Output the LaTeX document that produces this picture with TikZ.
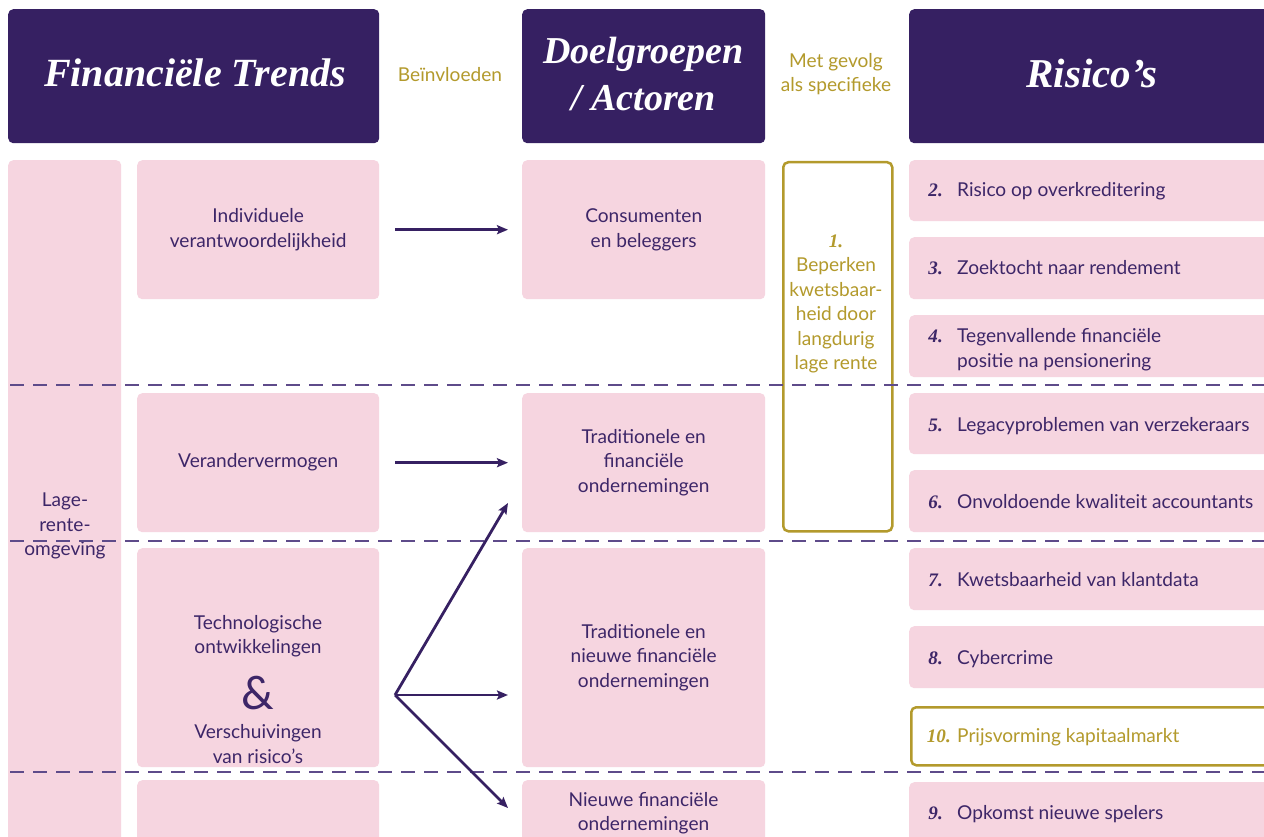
\documentclass[tikz,border=0pt]{standalone}
\usepackage{fontspec}
\setmainfont{Lato}
\newfontfamily\headfont{Liberation Serif}
\usetikzlibrary{arrows.meta}
\definecolor{hdr}{HTML}{362062}
\definecolor{pinkf}{HTML}{F6D5E0}
\definecolor{goldc}{HTML}{B39A2C}
\definecolor{txtp}{HTML}{3D2668}
\definecolor{dashc}{HTML}{5E4B8A}
\newcommand{\bodyfs}{\fontsize{19.1}{24.4}\selectfont}
\newcommand{\numf}[1]{{\headfont\bfseries\itshape #1}}
\begin{document}
\begin{tikzpicture}[x=1pt,y=-1pt,
  hdrbox/.style={fill=hdr, rounded corners=5pt, anchor=north west, inner sep=0pt},
  hdrtxt/.style={text=white, font=\headfont\bfseries\itshape\fontsize{39.5}{47}\selectfont, align=center},
  pbox/.style={fill=pinkf, rounded corners=5pt, anchor=north west, inner sep=0pt, text=txtp, font=\bodyfs, align=center},
  gbox/.style={draw=goldc, line width=2.5pt, rounded corners=5pt, anchor=north west, inner sep=0pt, fill=white},
  goldtxt/.style={text=goldc, font=\bodyfs, align=center},
  rtxt/.style={text=txtp, font=\bodyfs, anchor=base west, inner sep=0pt},
  rnum/.style={text=txtp, font=\bodyfs, anchor=base east, inner sep=0pt},
  dashline/.style={draw=dashc, line width=1.5pt, dash pattern=on 14pt off 9pt, dash phase=0pt},
  arr/.style={draw=hdr, line width=2.8pt, -{Stealth[length=11pt,width=9pt,inset=2pt]}}
]
\useasboundingbox (0,0) rectangle (1264,837);
\clip (0,0) rectangle (1264,837);
\fill[white] (0,0) rectangle (1264,837);

% headers
\node[hdrbox, minimum width=371pt, minimum height=134pt] (h1) at (8,9) {};
\node[hdrtxt, font=\headfont\bfseries\itshape\fontsize{40}{47}\selectfont] (h1t) at (195,73) {Financiële Trends};
\node[hdrbox, minimum width=243pt, minimum height=134pt] (h2) at (522,9) {};
\node[hdrtxt, font=\headfont\bfseries\itshape\fontsize{38}{47}\selectfont] (h2t) at (643.5,74) {Doelgroepen\\/ Actoren};
\node[hdrbox, minimum width=380pt, minimum height=134pt] (h3) at (909,9) {};
\node[hdrtxt, font=\headfont\bfseries\itshape\fontsize{41}{47}\selectfont] (h3t) at (1092,73) {Risico’s};
\node[goldtxt] (bein) at (450,75) {Beïnvloeden};
\node[goldtxt] (gev) at (836,74) {Met gevolg\\als specifieke};

% left column
\node[pbox, minimum width=113pt, minimum height=720pt] (lr) at (8,160) {};
\node[text=txtp, font=\bodyfs, align=center] (lrt) at (65,526) {Lage-\\rente-\\omgeving};

% trends
\node[pbox, minimum width=242pt, minimum height=139pt] (t1) at (137,160) {Individuele\\verantwoordelijkheid};
\node[pbox, minimum width=242pt, minimum height=139pt] (t2) at (137,393) {Verandervermogen};
\node[pbox, minimum width=242pt, minimum height=219pt] (t3) at (137,548) {};
\node[text=txtp, font=\bodyfs, align=center] (t3a) at (258,636) {Technologische\\ontwikkelingen};
\node[text=txtp, font=\fontsize{46}{46}\selectfont] (amp) at (258,693) {\&};
\node[text=txtp, font=\bodyfs, align=center] (t3b) at (258,744) {Verschuivingen\\van risico’s};
\node[pbox, minimum width=242pt, minimum height=100pt] (t4) at (137,780) {};

% actors
\node[pbox, minimum width=243pt, minimum height=139pt] (a1) at (522,160) {Consumenten\\en beleggers};
\node[pbox, minimum width=243pt, minimum height=139pt] (a2) at (522,393) {Traditionele en\\financiële\\ondernemingen};
\node[pbox, minimum width=243pt, minimum height=219pt] (a3) at (522,548) {Traditionele en\\nieuwe financiële\\ondernemingen};
\node[pbox, minimum width=243pt, minimum height=100pt] (a4) at (522,780) {};
\node[text=txtp, font=\bodyfs, align=center] (a4t) at (643.5,813) {Nieuwe financiële\\ondernemingen};

% gold box
\node[gbox, minimum width=109pt, minimum height=369pt] (g1) at (782,161) {};
\node[goldtxt] (g1t) at (836,304) {\numf{1.}\\Beperken\\kwetsbaar-\\heid door\\langdurig\\lage rente};

% risks
\node[pbox, minimum width=380pt, minimum height=61pt] (r2) at (909,160) {};
\node[pbox, minimum width=380pt, minimum height=62pt] (r3) at (909,237) {};
\node[pbox, minimum width=380pt, minimum height=62pt] (r4) at (909,315) {};
\node[pbox, minimum width=380pt, minimum height=61pt] (r5) at (909,393) {};
\node[pbox, minimum width=380pt, minimum height=62pt] (r6) at (909,470) {};
\node[pbox, minimum width=380pt, minimum height=62pt] (r7) at (909,548) {};
\node[pbox, minimum width=380pt, minimum height=62pt] (r8) at (909,626) {};
\node[gbox, minimum width=380pt, minimum height=58pt] (r10) at (910,706) {};
\node[pbox, minimum width=380pt, minimum height=80pt] (r9) at (909,782) {};

\node[rnum] (n2) at (943,197) {\numf{2.}};
\node[rtxt] (r2t) at (957,197) {Risico op overkreditering};
\node[rnum] (n3) at (943,275) {\numf{3.}};
\node[rtxt] (r3t) at (957,275) {Zoektocht naar rendement};
\node[rnum] (n4) at (943,342) {\numf{4.}};
\node[text=txtp, font=\bodyfs, align=left, anchor=north west, inner sep=0pt] (r4t) at (957,328.5) {Tegenvallende financiële\\positie na pensionering};
\node[rnum] (n5) at (943,431) {\numf{5.}};
\node[rtxt] (r5t) at (957,431) {Legacyproblemen van verzekeraars};
\node[rnum] (n6) at (943,508) {\numf{6.}};
\node[rtxt] (r6t) at (957,508) {Onvoldoende kwaliteit accountants};
\node[rnum] (n7) at (943,586) {\numf{7.}};
\node[rtxt] (r7t) at (957,586) {Kwetsbaarheid van klantdata};
\node[rnum] (n8) at (943,664) {\numf{8.}};
\node[rtxt] (r8t) at (957,664) {Cybercrime};
\node[rnum, text=goldc] (n10) at (951,742) {\numf{10.}};
\node[rtxt, text=goldc] (r10t) at (957,742) {Prijsvorming kapitaalmarkt};
\node[rnum] (n9) at (943,819) {\numf{9.}};
\node[rtxt] (r9t) at (957,819) {Opkomst nieuwe spelers};

% dashed separators
\draw[dashline] (10,385) -- (1264,385);
\draw[dashline] (10,541) -- (1264,541);
\draw[dashline] (10,772) -- (1264,772);

% arrows
\draw[arr, shorten <=16pt, shorten >=14pt] (t1) -- (a1);
\draw[arr, shorten <=16pt, shorten >=14pt] (t2) -- (a2);
\coordinate (fan) at (395,695);
\coordinate (e2) at (508,503);
\coordinate (e3) at (508,695);
\coordinate (e4) at (508,808);
\draw[arr] (fan) -- (e2);
\draw[arr] (fan) -- (e3);
\draw[arr] (fan) -- (e4);
\end{tikzpicture}
\end{document}
